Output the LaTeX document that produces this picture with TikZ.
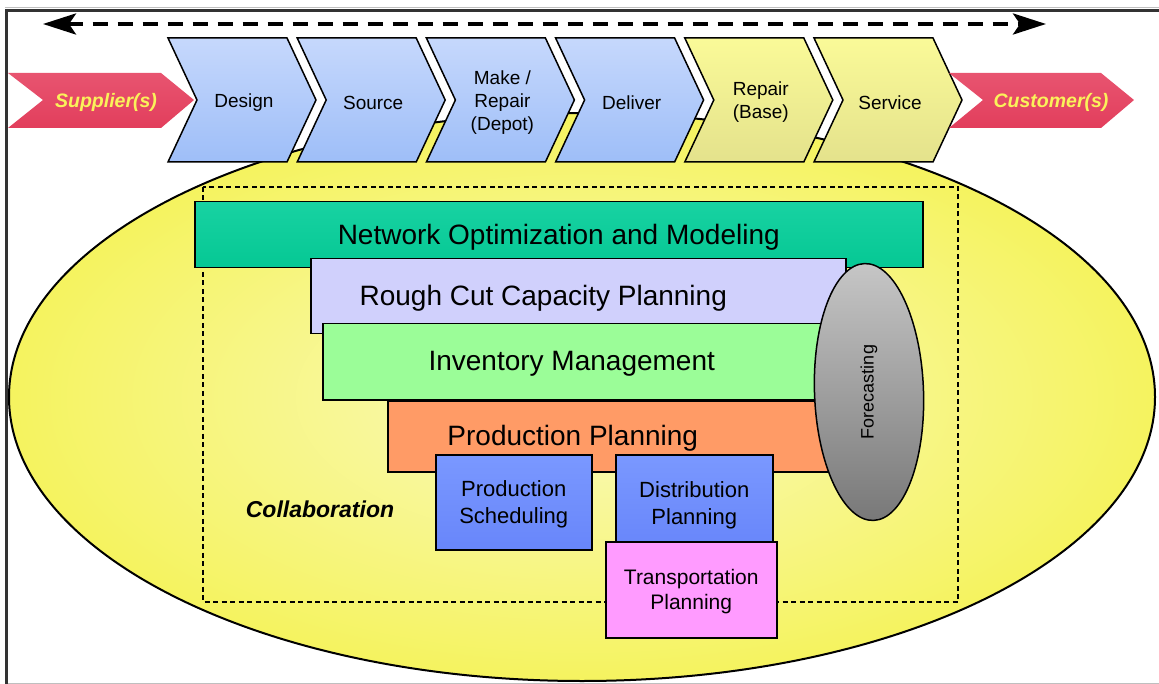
\documentclass[tikz,border=0pt]{standalone}
\usepackage{fontspec}
\setmainfont{Liberation Sans}
\usepackage{tikz}
\usetikzlibrary{arrows.meta, positioning, shapes.geometric}

\definecolor{chevblueT}{RGB}{198,216,252}
\definecolor{chevblueB}{RGB}{158,190,248}
\definecolor{chevyelT}{RGB}{250,250,152}
\definecolor{chevyelB}{RGB}{228,226,140}
\definecolor{redT}{RGB}{232,84,112}
\definecolor{redB}{RGB}{226,62,92}
\definecolor{labelyel}{RGB}{250,242,90}
\definecolor{ovalout}{RGB}{245,243,95}
\definecolor{ovalin}{RGB}{250,250,190}
\definecolor{tealT}{RGB}{24,210,162}
\definecolor{tealB}{RGB}{5,200,148}
\definecolor{lavender}{RGB}{208,208,252}
\definecolor{mint}{RGB}{155,253,152}
\definecolor{apricot}{RGB}{255,155,102}
\definecolor{schedT}{RGB}{122,152,255}
\definecolor{schedB}{RGB}{104,134,250}
\definecolor{pinkbox}{RGB}{255,155,255}
\definecolor{greyT}{RGB}{198,198,198}
\definecolor{greyB}{RGB}{120,120,120}

\begin{document}
\begin{tikzpicture}[x=1pt, y=-1pt,
    chev/.style={draw, line width=1.5pt, line join=miter},
    chevtext/.style={align=center, yshift=-2.5pt, font=\fontsize{19}{23}\selectfont},
    flag/.style={top color=redT, bottom color=redB, draw=none},
    flagtext/.style={yshift=-2pt, font=\fontsize{19.5}{23}\selectfont\bfseries\itshape, text=labelyel},
    blk/.style={draw, line width=1.5pt, inner sep=0pt, anchor=north west},
    bigtext/.style={yshift=-2.5pt, font=\fontsize{28}{33}\selectfont},
    smalltext/.style={align=center, yshift=-2pt, font=\fontsize{22}{27}\selectfont}
]
\useasboundingbox (0,0) rectangle (1159,684);

% Frame
\draw[black!25, line width=1pt] (5,7.5) -- (1159,7.5);
\draw[black!25, line width=1pt] (5,683) -- (1159,683);
\draw[black!80, line width=3pt] (5,10.5) -- (1159,10.5);
\draw[black!80, line width=3pt] (6.5,9) -- (6.5,684);

% Big oval
\shade[inner color=ovalin, outer color=ovalout] (582,397) ellipse [x radius=573, y radius=284];
\draw[line width=2pt] (582,397) ellipse [x radius=573, y radius=284];

% Collaboration region
\draw[dashed, line width=1.5pt, dash pattern=on 5pt off 3.5pt] (203,187) rectangle (958,602);
\node[yshift=-2pt, font=\fontsize{23}{27}\selectfont\bfseries\itshape] (collab) at (320,507) {Collaboration};

% Planning layers
\node[blk, top color=tealT, bottom color=tealB, minimum width=728pt, minimum height=66pt] (network) at (194,201) {};
\node[bigtext] at (network.center) {Network Optimization and Modeling};
\node[blk, fill=lavender, minimum width=535pt, minimum height=75pt] (rough) at (310,258) {};
\node[bigtext] at ([xshift=-35pt]rough.center) {Rough Cut Capacity Planning};
\node[blk, fill=mint, minimum width=518pt, minimum height=76pt] (inventory) at (322,323) {};
\node[bigtext] at ([xshift=-10pt]inventory.center) {Inventory Management};
\node[blk, fill=apricot, minimum width=448pt, minimum height=71pt] (prodplan) at (387,400) {};
\node[bigtext] at ([xshift=-39pt]prodplan.center) {Production Planning};

% Forecasting oval
\node[ellipse, draw, line width=1.5pt, top color=greyT, bottom color=greyB, minimum width=109pt, minimum height=257pt, rotate=2] (forecast) at (869,392) {};
\node[rotate=90, font=\fontsize{18}{21}\selectfont] at (forecast.center) {Forecasting};

% Detailed planning boxes
\node[blk, top color=schedT, bottom color=schedB, minimum width=156pt, minimum height=95pt] (prodsched) at (435,454) {};
\node[smalltext] at (prodsched.center) {Production\\Scheduling};
\node[blk, top color=schedT, bottom color=schedB, minimum width=157pt, minimum height=92pt] (distrib) at (615,454) {};
\node[smalltext] at ([yshift=-3pt]distrib.center) {Distribution\\Planning};
\node[blk, fill=pinkbox, minimum width=171pt, minimum height=96pt] (transport) at (605,541) {};
\node[smalltext, font=\fontsize{21}{25}\selectfont] at (transport.center) {Transportation\\Planning};

% Value chain chevrons
\foreach \x/\txt/\tc/\bc [count=\i] in {168/Design/chevblueT/chevblueB, 297.2/Source/chevblueT/chevblueB,
    426.4/{Make /\\Repair\\(Depot)}/chevblueT/chevblueB, 555.6/Deliver/chevblueT/chevblueB,
    684.8/{Repair\\(Base)}/chevyelT/chevyelB, 814/Service/chevyelT/chevyelB} {
  \draw[chev, top color=\tc, bottom color=\bc] (\x,38) -- ++(119,0) -- ++(29,62) -- ++(-29,62) -- ++(-119,0) -- ++(29,-62) -- cycle;
  \node[chevtext] (stage\i) at (\x+76,100) {\txt};
}

% Supplier and customer flags
\draw[flag] (8,73) -- (161,73) -- (194,100) -- (161,128) -- (8,128) -- (43,100) -- cycle;
\node[flagtext] (supplier) at (106,100) {Supplier(s)};
\draw[flag] (949,73) -- (1101,73) -- (1134,100) -- (1101,128) -- (949,128) -- (983,100) -- cycle;
\node[flagtext] (customer) at (1051,100) {Customer(s)};

% Two-way flow arrow
\coordinate (flowL) at (43,24);
\coordinate (flowR) at (1046,24);
\draw[line width=4pt, dash pattern=on 15pt off 10pt,
    {Stealth[length=33pt, width=21pt, inset=7pt]}-{Stealth[length=33pt, width=21pt, inset=7pt]}] (flowL) -- (flowR);

\end{tikzpicture}
\end{document}
